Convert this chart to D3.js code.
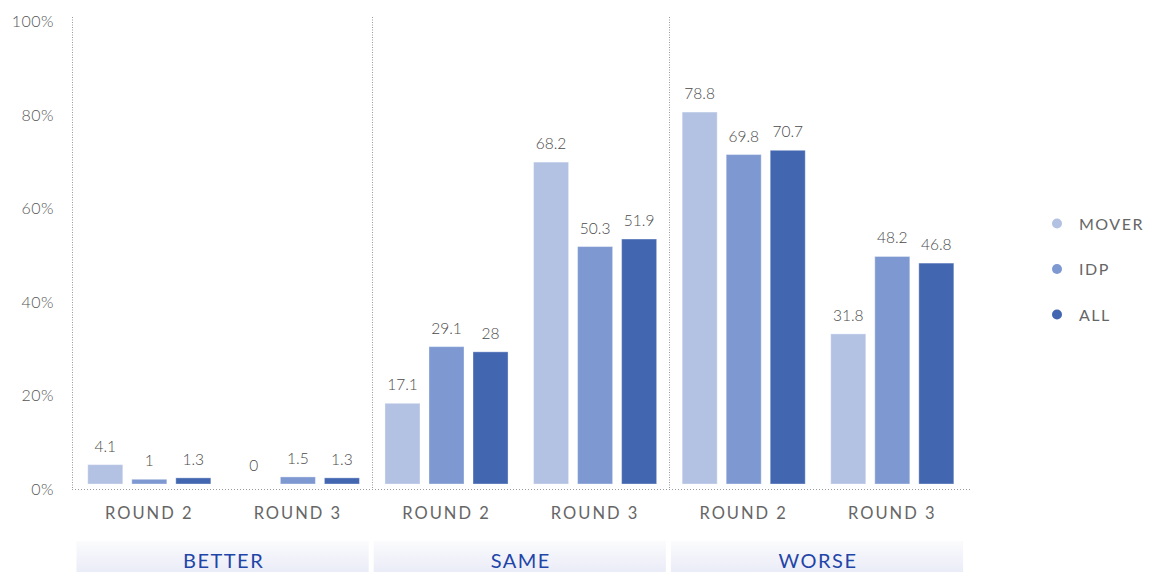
<!DOCTYPE html>
<html>
<head>
<meta charset="utf-8">
<script src="https://cdn.jsdelivr.net/npm/d3@7"></script>
<style>
  html, body { margin: 0; padding: 0; background: #fff; }
  svg { display: block; font-family: Lato, "Open Sans", sans-serif; }
</style>
</head>
<body>
<svg id="chart" width="1150" height="572"></svg>
<script>
// ---- data ----
const groups = ["BETTER", "SAME", "WORSE"];
const rounds = ["ROUND 2", "ROUND 3"];
const seriesNames = ["MOVER", "IDP", "ALL"];
const moverValues = [4.1, 0, 17.1, 68.2, 78.8, 31.8];
const idpValues = [1, 1.5, 29.1, 50.3, 69.8, 48.2];
const allValues = [1.3, 1.3, 28, 51.9, 70.7, 46.8];
const yTicks = [0, 20, 40, 60, 80, 100];
const colors = ["#b3c2e3", "#7e99d1", "#4266b0"];

const seriesValues = [moverValues, idpValues, allValues];
const slots = [];
groups.forEach(g => rounds.forEach(r => slots.push(g + "|" + r)));

const svg = d3.select("#chart");

// scales
const x = d3.scaleBand().domain(slots).range([75, 966.6]).paddingInner(0).paddingOuter(0);
const xInner = d3.scaleBand().domain(seriesNames).range([0, x.bandwidth()]).paddingInner(0.2045).paddingOuter(0.29);
const yBar = d3.scaleLinear().domain([0, 100]).range([484, 12]);
const yAxisScale = d3.scaleLinear().domain([0, 100]).range([489, 21.5]);

// group boxes
const defs = svg.append("defs");
const grad = defs.append("linearGradient").attr("id", "boxGrad")
  .attr("x1", 0).attr("y1", 0).attr("x2", 0).attr("y2", 1);
grad.append("stop").attr("offset", "0%").attr("stop-color", "#fbfbfd");
grad.append("stop").attr("offset", "100%").attr("stop-color", "#eaecf7");

groups.forEach((g, gi) => {
  const x0 = x(g + "|" + rounds[0]);
  const x1 = x(g + "|" + rounds[1]) + x.bandwidth();
  svg.append("rect")
    .attr("x", x0 + 1.5).attr("y", 541)
    .attr("width", x1 - x0 - 5).attr("height", 31)
    .attr("fill", "url(#boxGrad)");
  svg.append("text")
    .attr("x", (x0 + x1) / 2).attr("y", 567.5)
    .attr("text-anchor", "middle")
    .attr("font-size", 20).attr("letter-spacing", 1.5)
    .attr("fill", "#1f45a8")
    .text(g);
});

// y axis labels
const yAxis = d3.axisLeft(yAxisScale).tickValues(yTicks).tickSize(0).tickPadding(0)
  .tickFormat(d => d + "%");
const yg = svg.append("g").attr("transform", "translate(54,0)").call(yAxis);
yg.select(".domain").remove();
yg.selectAll("text").attr("font-size", 16).attr("fill", "#555").attr("font-family", "Lato, sans-serif")
  .attr("font-weight", 300).attr("letter-spacing", 0.5);

// dotted lines
const dotStyle = sel => sel.attr("stroke", "#9a9a9a").attr("stroke-width", 1);
const sepXs = [72, x(groups[1] + "|" + rounds[0]), x(groups[2] + "|" + rounds[0])];
sepXs.forEach(sx => {
  svg.append("line").attr("x1", Math.round(sx) + 0.5).attr("x2", Math.round(sx) + 0.5)
    .attr("y1", 17).attr("y2", 489).call(dotStyle).attr("stroke-dasharray", "1,1.5");
});
svg.append("line").attr("x1", 72).attr("x2", 970).attr("y1", 489.5).attr("y2", 489.5)
  .call(dotStyle).attr("stroke-dasharray", "1,2");

// bars
slots.forEach((slot, si) => {
  const g = svg.append("g").attr("transform", `translate(${x(slot)},0)`);
  seriesNames.forEach((s, k) => {
    const v = seriesValues[k][si];
    const bx = xInner(s);
    if (v > 0) {
      g.append("rect")
        .attr("x", bx).attr("width", xInner.bandwidth())
        .attr("y", yBar(v)).attr("height", yBar(0) - yBar(v))
        .attr("fill", colors[k])
        .attr("stroke", "#ffffff").attr("stroke-opacity", 0.35).attr("stroke-width", 1);
    }
    g.append("text")
      .attr("x", bx + xInner.bandwidth() / 2)
      .attr("y", yBar(v) - 13)
      .attr("text-anchor", "middle")
      .attr("font-size", 15.5).attr("font-weight", 300).attr("fill", "#4a4a4a")
      .text(v);
  });
  // round label
  svg.append("text")
    .attr("x", x(slot) + x.bandwidth() / 2).attr("y", 518.5)
    .attr("text-anchor", "middle")
    .attr("font-size", 16.5).attr("letter-spacing", 2)
    .attr("fill", "#666")
    .text(slot.split("|")[1]);
});

// legend
seriesNames.forEach((s, k) => {
  const ly = 223.5 + k * 45.5;
  svg.append("circle").attr("cx", 1057).attr("cy", ly).attr("r", 5).attr("fill", colors[k]);
  svg.append("text").attr("x", 1079).attr("y", ly + 6)
    .attr("font-size", 16).attr("letter-spacing", 1.5).attr("fill", "#666")
    .text(s);
});
</script>
</body>
</html>
